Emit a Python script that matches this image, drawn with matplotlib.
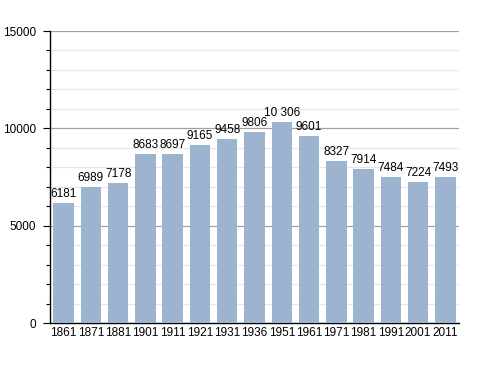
import numpy as np
import matplotlib.pyplot as plt
from matplotlib.ticker import MultipleLocator

plt.rcParams["font.family"] = ["Liberation Sans", "DejaVu Sans"]

years = ["1861", "1871", "1881", "1901", "1911", "1921", "1931", "1936",
         "1951", "1961", "1971", "1981", "1991", "2001", "2011"]
population = [6181, 6989, 7178, 8683, 8697, 9165, 9458, 9806,
              10306, 9601, 8327, 7914, 7484, 7224, 7493]

fig = plt.figure(figsize=(4.88, 3.73), dpi=100)
ax = fig.add_axes([50 / 488, 1 - 323 / 373, 409 / 488, 292 / 373])

x = np.arange(len(years))
ax.bar(x, population, width=0.75, color="#9cb4d0", zorder=3)

for xi, v in zip(x, population):
    label = f"{v:,}".replace(",", " ") if v >= 10000 else str(v)
    ax.text(xi, v + 150, label, ha="center", va="bottom", fontsize=8.5, zorder=4)

ax.set_xlim(-0.5, len(years) - 0.5)
ax.set_ylim(0, 15000)
ax.set_xticks(x)
ax.set_xticklabels(years, fontsize=8.5)
ax.set_yticks([0, 5000, 10000, 15000])
ax.yaxis.set_minor_locator(MultipleLocator(1000))
ax.tick_params(axis="y", labelsize=8.5, length=5, width=0.8, pad=5)
ax.tick_params(axis="y", which="minor", length=3, width=0.8)
ax.tick_params(axis="x", length=0, pad=3)

ax.grid(axis="y", which="major", color="#a0a0a0", linewidth=0.9, zorder=0)
ax.grid(axis="y", which="minor", color="#e6e6e6", linewidth=0.9, zorder=0)

for side in ["top", "right"]:
    ax.spines[side].set_visible(False)
ax.spines["left"].set_linewidth(1)
ax.spines["bottom"].set_linewidth(1)

fig.savefig("out.png", dpi=100)
